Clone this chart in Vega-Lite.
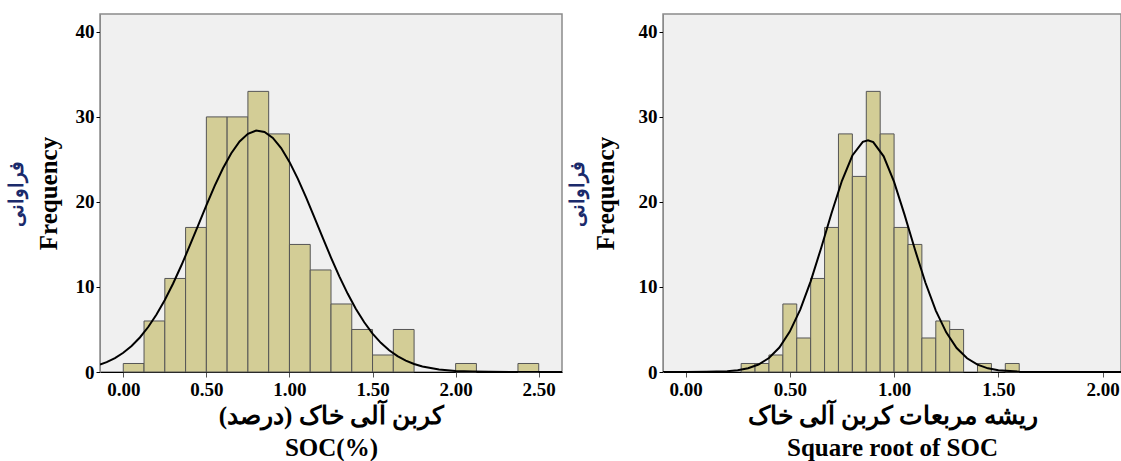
{
  "$schema": "https://vega.github.io/schema/vega-lite/v6.json",
  "padding": {"left": 5, "top": 13, "right": 0, "bottom": 0},
  "background": "white",
  "spacing": 3,
  "config": {
    "view": {"fill": "#f0f0f0", "stroke": "#8a8a8a", "strokeWidth": 1.5},
    "axis": {
      "labelFont": "Liberation Serif", "titleFont": "Liberation Serif",
      "labelFontWeight": "bold", "titleFontWeight": "bold",
      "labelColor": "black", "titleColor": "black", "grid": false,
      "tickColor": "black"
    }
  },
  "datasets": {
    "soc_bins": [
      {"bin_start": 0.0, "bin_end": 0.125, "count": 1},
      {"bin_start": 0.125, "bin_end": 0.25, "count": 6},
      {"bin_start": 0.25, "bin_end": 0.375, "count": 11},
      {"bin_start": 0.375, "bin_end": 0.5, "count": 17},
      {"bin_start": 0.5, "bin_end": 0.625, "count": 30},
      {"bin_start": 0.625, "bin_end": 0.75, "count": 30},
      {"bin_start": 0.75, "bin_end": 0.875, "count": 33},
      {"bin_start": 0.875, "bin_end": 1.0, "count": 28},
      {"bin_start": 1.0, "bin_end": 1.125, "count": 15},
      {"bin_start": 1.125, "bin_end": 1.25, "count": 12},
      {"bin_start": 1.25, "bin_end": 1.375, "count": 8},
      {"bin_start": 1.375, "bin_end": 1.5, "count": 5},
      {"bin_start": 1.5, "bin_end": 1.625, "count": 2},
      {"bin_start": 1.625, "bin_end": 1.75, "count": 5},
      {"bin_start": 2.0, "bin_end": 2.125, "count": 1},
      {"bin_start": 2.375, "bin_end": 2.5, "count": 1}
    ],
    "soc_curve": [
      {"x": -0.14, "y": 0.87}, {"x": -0.10, "y": 1.16}, {"x": -0.05, "y": 1.64},
      {"x": 0.00, "y": 2.26}, {"x": 0.05, "y": 3.06}, {"x": 0.10, "y": 4.06},
      {"x": 0.15, "y": 5.29}, {"x": 0.20, "y": 6.76}, {"x": 0.25, "y": 8.47},
      {"x": 0.30, "y": 10.41}, {"x": 0.35, "y": 12.55}, {"x": 0.40, "y": 14.85},
      {"x": 0.45, "y": 17.22}, {"x": 0.50, "y": 19.60}, {"x": 0.55, "y": 21.88},
      {"x": 0.60, "y": 23.96}, {"x": 0.65, "y": 25.73}, {"x": 0.70, "y": 27.11},
      {"x": 0.75, "y": 28.01}, {"x": 0.80, "y": 28.39}, {"x": 0.85, "y": 28.22},
      {"x": 0.90, "y": 27.53}, {"x": 0.95, "y": 26.33}, {"x": 1.00, "y": 24.71},
      {"x": 1.05, "y": 22.74}, {"x": 1.10, "y": 20.53}, {"x": 1.15, "y": 18.18},
      {"x": 1.20, "y": 15.79}, {"x": 1.25, "y": 13.46}, {"x": 1.30, "y": 11.25},
      {"x": 1.35, "y": 9.22}, {"x": 1.40, "y": 7.42}, {"x": 1.45, "y": 5.85},
      {"x": 1.50, "y": 4.52}, {"x": 1.55, "y": 3.43}, {"x": 1.60, "y": 2.56},
      {"x": 1.65, "y": 1.87}, {"x": 1.70, "y": 1.34}, {"x": 1.75, "y": 0.94},
      {"x": 1.80, "y": 0.65}, {"x": 1.90, "y": 0.29}, {"x": 2.00, "y": 0.12},
      {"x": 2.10, "y": 0.05}, {"x": 2.20, "y": 0.02}, {"x": 2.40, "y": 0.0},
      {"x": 2.64, "y": 0.0}
    ],
    "sqrt_bins": [
      {"bin_start": 0.2667, "bin_end": 0.3333, "count": 1},
      {"bin_start": 0.3333, "bin_end": 0.4, "count": 1},
      {"bin_start": 0.4, "bin_end": 0.4667, "count": 2},
      {"bin_start": 0.4667, "bin_end": 0.5333, "count": 8},
      {"bin_start": 0.5333, "bin_end": 0.6, "count": 4},
      {"bin_start": 0.6, "bin_end": 0.6667, "count": 11},
      {"bin_start": 0.6667, "bin_end": 0.7333, "count": 17},
      {"bin_start": 0.7333, "bin_end": 0.8, "count": 28},
      {"bin_start": 0.8, "bin_end": 0.8667, "count": 23},
      {"bin_start": 0.8667, "bin_end": 0.9333, "count": 33},
      {"bin_start": 0.9333, "bin_end": 1.0, "count": 28},
      {"bin_start": 1.0, "bin_end": 1.0667, "count": 17},
      {"bin_start": 1.0667, "bin_end": 1.1333, "count": 15},
      {"bin_start": 1.1333, "bin_end": 1.2, "count": 4},
      {"bin_start": 1.2, "bin_end": 1.2667, "count": 6},
      {"bin_start": 1.2667, "bin_end": 1.3333, "count": 5},
      {"bin_start": 1.4, "bin_end": 1.4667, "count": 1},
      {"bin_start": 1.5333, "bin_end": 1.6, "count": 1}
    ],
    "sqrt_curve": [
      {"x": -0.108, "y": 0.0}, {"x": 0.00, "y": 0.0}, {"x": 0.10, "y": 0.02},
      {"x": 0.20, "y": 0.09}, {"x": 0.25, "y": 0.21}, {"x": 0.30, "y": 0.44},
      {"x": 0.35, "y": 0.88}, {"x": 0.40, "y": 1.64}, {"x": 0.45, "y": 2.88},
      {"x": 0.50, "y": 4.75}, {"x": 0.55, "y": 7.34}, {"x": 0.60, "y": 10.66},
      {"x": 0.65, "y": 14.56}, {"x": 0.70, "y": 18.67}, {"x": 0.75, "y": 22.49},
      {"x": 0.80, "y": 25.46}, {"x": 0.85, "y": 27.06}, {"x": 0.875, "y": 27.26},
      {"x": 0.90, "y": 27.03}, {"x": 0.95, "y": 25.36}, {"x": 1.00, "y": 22.35},
      {"x": 1.05, "y": 18.51}, {"x": 1.10, "y": 14.40}, {"x": 1.15, "y": 10.52},
      {"x": 1.20, "y": 7.22}, {"x": 1.25, "y": 4.66}, {"x": 1.30, "y": 2.82},
      {"x": 1.35, "y": 1.61}, {"x": 1.40, "y": 0.86}, {"x": 1.45, "y": 0.43},
      {"x": 1.50, "y": 0.20}, {"x": 1.60, "y": 0.04}, {"x": 1.70, "y": 0.01},
      {"x": 1.80, "y": 0.0}, {"x": 2.088, "y": 0.0}
    ]
  },
  "hconcat": [
    {
      "width": 462,
      "height": 358,
      "layer": [
        {
          "data": {"name": "soc_bins"},
          "mark": {"type": "bar", "fill": "#d3cd96", "stroke": "#555555", "strokeWidth": 1},
          "encoding": {
            "x": {
              "field": "bin_start", "type": "quantitative",
              "scale": {"domain": [-0.14, 2.64], "nice": false, "zero": false},
              "axis": {
                "title": ["کربن آلی خاک (درصد)", "SOC(%)"],
                "values": [0, 0.5, 1, 1.5, 2, 2.5], "format": ".2f",
                "labelFontSize": 19, "titleFontSize": 25, "titleLineHeight": 32,
                "tickSize": 5, "labelPadding": 3, "titlePadding": 4,
                "domainColor": "black", "tickColor": "#555555"
              }
            },
            "x2": {"field": "bin_end"},
            "y": {
              "field": "count", "type": "quantitative",
              "scale": {"domain": [0, 42.1], "nice": false},
              "axis": {
                "title": "Frequency", "values": [0, 10, 20, 30, 40],
                "labelFontSize": 19, "titleFontSize": 25, "tickSize": 4,
                "labelPadding": 2, "titlePadding": 14, "domainColor": "#8a8a8a"
              }
            },
            "y2": {"datum": 0}
          }
        },
        {
          "data": {"name": "soc_curve"},
          "mark": {"type": "line", "color": "black", "strokeWidth": 2, "clip": true},
          "encoding": {
            "x": {
              "field": "x", "type": "quantitative",
              "scale": {"domain": [-0.14, 2.64], "nice": false, "zero": false},
              "axis": {
                "title": ["کربن آلی خاک (درصد)", "SOC(%)"],
                "values": [0, 0.5, 1, 1.5, 2, 2.5], "format": ".2f",
                "labelFontSize": 19, "titleFontSize": 25, "titleLineHeight": 32,
                "tickSize": 5, "labelPadding": 3, "titlePadding": 4,
                "domainColor": "black", "tickColor": "#555555"
              }
            },
            "y": {
              "field": "y", "type": "quantitative",
              "scale": {"domain": [0, 42.1], "nice": false},
              "axis": {
                "orient": "left", "title": "فراوانی", "titleColor": "#1b2a6b",
                "titleFontSize": 20, "labels": false, "ticks": false, "domain": false,
                "offset": 70, "titlePadding": 4
              }
            }
          }
        }
      ],
      "resolve": {"scale": {"y": "independent"}}
    },
    {
      "width": 458,
      "height": 358,
      "layer": [
        {
          "data": {"name": "sqrt_bins"},
          "mark": {"type": "bar", "fill": "#d3cd96", "stroke": "#555555", "strokeWidth": 1},
          "encoding": {
            "x": {
              "field": "bin_start", "type": "quantitative",
              "scale": {"domain": [-0.108, 2.088], "nice": false, "zero": false},
              "axis": {
                "title": ["ریشه مربعات کربن آلی خاک", "Square root of SOC"],
                "values": [0, 0.5, 1, 1.5, 2], "format": ".2f",
                "labelFontSize": 19, "titleFontSize": 25, "titleLineHeight": 32,
                "tickSize": 5, "labelPadding": 3, "titlePadding": 4,
                "domainColor": "black", "tickColor": "#555555"
              }
            },
            "x2": {"field": "bin_end"},
            "y": {
              "field": "count", "type": "quantitative",
              "scale": {"domain": [0, 42.1], "nice": false},
              "axis": {
                "title": "Frequency", "values": [0, 10, 20, 30, 40],
                "labelFontSize": 19, "titleFontSize": 25, "tickSize": 4,
                "labelPadding": 2, "titlePadding": 20, "domainColor": "#8a8a8a"
              }
            },
            "y2": {"datum": 0}
          }
        },
        {
          "data": {"name": "sqrt_curve"},
          "mark": {"type": "line", "color": "black", "strokeWidth": 2, "clip": true},
          "encoding": {
            "x": {
              "field": "x", "type": "quantitative",
              "scale": {"domain": [-0.108, 2.088], "nice": false, "zero": false},
              "axis": {
                "title": ["ریشه مربعات کربن آلی خاک", "Square root of SOC"],
                "values": [0, 0.5, 1, 1.5, 2], "format": ".2f",
                "labelFontSize": 19, "titleFontSize": 25, "titleLineHeight": 32,
                "tickSize": 5, "labelPadding": 3, "titlePadding": 4,
                "domainColor": "black", "tickColor": "#555555"
              }
            },
            "y": {
              "field": "y", "type": "quantitative",
              "scale": {"domain": [0, 42.1], "nice": false},
              "axis": {
                "orient": "left", "title": "فراوانی", "titleColor": "#1b2a6b",
                "titleFontSize": 20, "labels": false, "ticks": false, "domain": false,
                "offset": 72, "titlePadding": 4
              }
            }
          }
        }
      ],
      "resolve": {"scale": {"y": "independent"}}
    }
  ]
}
